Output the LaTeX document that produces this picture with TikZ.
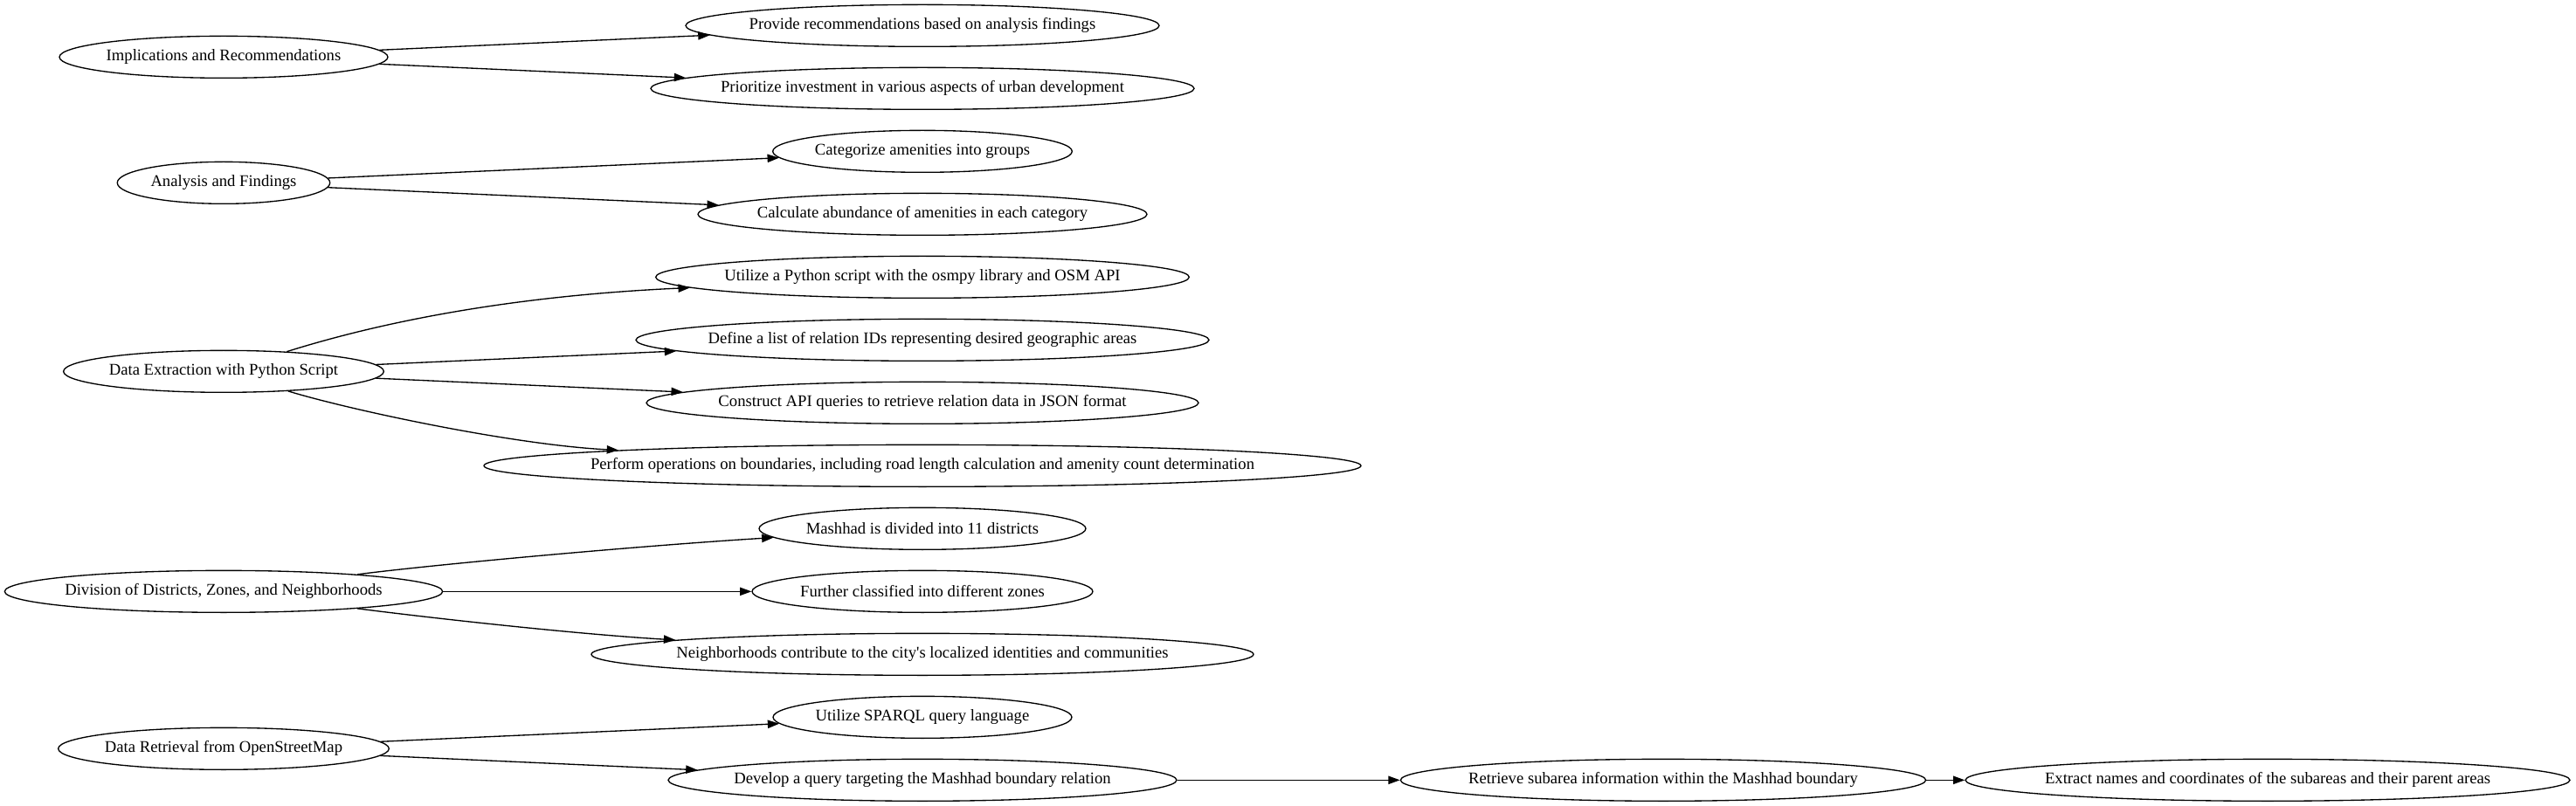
\documentclass[tikz,border=0pt]{standalone}
\usepackage{fontspec}
\setmainfont{Liberation Serif}
\usetikzlibrary{shapes.geometric,arrows.meta}
\begin{document}
\begin{tikzpicture}[x=1pt,y=-1pt,
  el/.style={ellipse, draw, line width=1pt, minimum height=36pt, inner sep=0pt,
    font=\fontsize{14}{16}\selectfont},
  edge/.style={draw, line width=1pt, -{Triangle[length=10pt,width=7pt]}}]
\fill[white] (0,0) rectangle (2211.75,692.25);
\useasboundingbox (0,0) rectangle (2211.75,692.25);
% rank 0
\node[el, minimum width=282pt] (impl) at (192,49) {\makebox[0pt]{Implications and Recommendations}};
\node[el, minimum width=182.6pt] (anal) at (192,157) {\makebox[0pt]{Analysis and Findings}};
\node[el, minimum width=275pt] (extr) at (192,319) {\makebox[0pt]{Data Extraction with Python Script}};
\node[el, minimum width=376pt] (divi) at (192,508) {\makebox[0pt]{Division of Districts, Zones, and Neighborhoods}};
\node[el, minimum width=284pt] (retr) at (192,643) {\makebox[0pt]{Data Retrieval from OpenStreetMap}};
% rank 1
\node[el, minimum width=406.5pt] (prov) at (792,22) {\makebox[0pt]{Provide recommendations based on analysis findings}};
\node[el, minimum width=466.5pt] (prio) at (792,76) {\makebox[0pt]{Prioritize investment in various aspects of urban development}};
\node[el, minimum width=257pt] (cate) at (792,130) {\makebox[0pt]{Categorize amenities into groups}};
\node[el, minimum width=385.5pt] (calc) at (792,184) {\makebox[0pt]{Calculate abundance of amenities in each category}};
\node[el, minimum width=458pt] (utpy) at (792,238) {\makebox[0pt]{Utilize a Python script with the osmpy library and OSM API}};
\node[el, minimum width=492pt] (defi) at (792,292) {\makebox[0pt]{Define a list of relation IDs representing desired geographic areas}};
\node[el, minimum width=474pt] (cons) at (792,346) {\makebox[0pt]{Construct API queries to retrieve relation data in JSON format}};
\node[el, minimum width=753pt] (perf) at (792,400) {\makebox[0pt]{Perform operations on boundaries, including road length calculation and amenity count determination}};
\node[el, minimum width=280.5pt] (mash) at (792,454) {\makebox[0pt]{Mashhad is divided into 11 districts}};
\node[el, minimum width=292.5pt] (furt) at (792,508) {\makebox[0pt]{Further classified into different zones}};
\node[el, minimum width=568.5pt] (neig) at (792,562) {\makebox[0pt]{Neighborhoods contribute to the city\textquotesingle s localized identities and communities}};
\node[el, minimum width=256.5pt] (spar) at (792,616) {\makebox[0pt]{Utilize SPARQL query language}};
\node[el, minimum width=436.5pt] (deve) at (792,670) {\makebox[0pt]{Develop a query targeting the Mashhad boundary relation}};
% rank 2, 3
\node[el, minimum width=451pt] (subs) at (1428,670) {\makebox[0pt]{Retrieve subarea information within the Mashhad boundary}};
\node[el, minimum width=519pt] (name) at (1947,670) {\makebox[0pt]{Extract names and coordinates of the subareas and their parent areas}};
% edges
\draw[edge] (impl) -- (prov);
\draw[edge] (impl) -- (prio);
\draw[edge] (anal) -- (cate);
\draw[edge] (anal) -- (calc);
\draw[edge] (extr) .. controls (310,282) and (420,255) .. (utpy);
\draw[edge] (extr) -- (defi);
\draw[edge] (extr) -- (cons);
\draw[edge] (extr) .. controls (300,352) and (440,382) .. (perf);
\draw[edge] (divi) .. controls (380,484) and (560,468) .. (mash);
\draw[edge] (divi) -- (furt);
\draw[edge] (divi) .. controls (380,532) and (500,545) .. (neig);
\draw[edge] (retr) -- (spar);
\draw[edge] (retr) -- (deve);
\draw[edge] (deve) -- (subs);
\draw[edge] (subs) -- (name);
\end{tikzpicture}
\end{document}
